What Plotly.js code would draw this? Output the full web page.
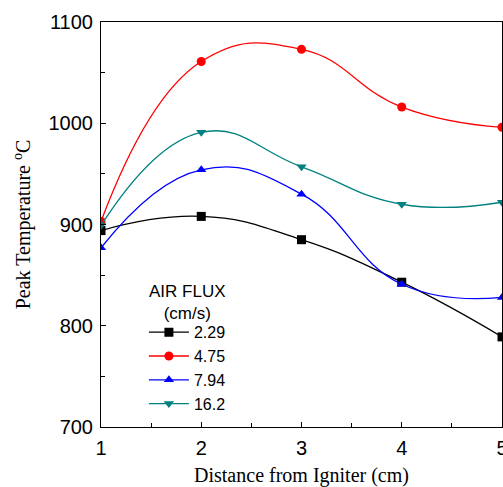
<!DOCTYPE html>
<html><head><meta charset="utf-8">
<script src="https://cdn.plot.ly/plotly-3.0.1.min.js"></script>
<style>body{margin:0;background:#fff}#chart{width:503px;height:487px}</style>
</head><body><div id="chart"></div>
<script>
const distance = [1, 2, 3, 4, 5];
const flux229 = [894, 908, 885, 843, 789];
const flux475 = [903, 1061, 1073, 1016, 996];
const flux794 = [877, 954, 930, 841, 828];
const flux162 = [899, 991, 957, 920, 922];
const seriesNames = ['2.29', '4.75', '7.94', '16.2'];
const legendTitle = 'AIR FLUX<br>(cm/s)';

function tr(y, name, color, symbol){
  return {x: distance, y: y, name: name, type: 'scatter', mode: 'lines+markers',
    line: {color: color, width: 1.3, shape: 'spline', smoothing: 1.3},
    marker: {color: color, symbol: symbol, size: 9}};
}
const data = [
  tr(flux229, seriesNames[0], '#000000', 'square'),
  tr(flux475, seriesNames[1], '#ff0000', 'circle'),
  tr(flux794, seriesNames[2], '#0000ff', 'triangle-up'),
  tr(flux162, seriesNames[3], '#008080', 'triangle-down')
];
const axisCommon = {showgrid: false, zeroline: false, showline: true, mirror: true,
  linecolor: '#000', linewidth: 1, ticks: 'inside', ticklen: 5, tickcolor: '#000',
  ticklabelstandoff: 3,
  tickfont: {family: 'Liberation Sans, Arial', size: 20, color: '#000'}};
const layout = {
  width: 503, height: 487,
  margin: {l: 101, r: 1, t: 22, b: 60},
  paper_bgcolor: '#fff', plot_bgcolor: '#fff',
  showlegend: true,
  legend: {x: 0.107, y: 0.145, xanchor: 'left', yanchor: 'middle', bgcolor: 'rgba(0,0,0,0)',
    font: {family: 'Liberation Sans, Arial', size: 16, color: '#000'},
    tracegroupgap: 0, itemwidth: 40},
  annotations: [{text: legendTitle, xref: 'paper', yref: 'paper', x: 0.215, y: 0.252,
    xanchor: 'center', yanchor: 'bottom', align: 'center', showarrow: false,
    font: {family: 'Liberation Sans, Arial', size: 17, color: '#000'}}],
  xaxis: Object.assign({}, axisCommon, {range: [1, 5], tickvals: [1, 2, 3, 4, 5],
    ticklabeloverflow: 'allow',
    minor: {dtick: 0.5, ticks: 'inside', ticklen: 4, tickcolor: '#000'},
    title: {text: 'Distance from Igniter (cm)', font: {family: 'Liberation Serif, Times New Roman', size: 20, color: '#000'}, standoff: 14}}),
  yaxis: Object.assign({}, axisCommon, {range: [700, 1100], tickvals: [700, 800, 900, 1000, 1100],
    minor: {dtick: 50, ticks: 'inside', ticklen: 4, tickcolor: '#000'},
    title: {text: 'Peak Temperature <sup>o</sup>C', font: {family: 'Liberation Serif, Times New Roman', size: 20, color: '#000'}, standoff: 12}})
};
Plotly.newPlot('chart', data, layout, {displayModeBar: false, staticPlot: true});
</script></body></html>
